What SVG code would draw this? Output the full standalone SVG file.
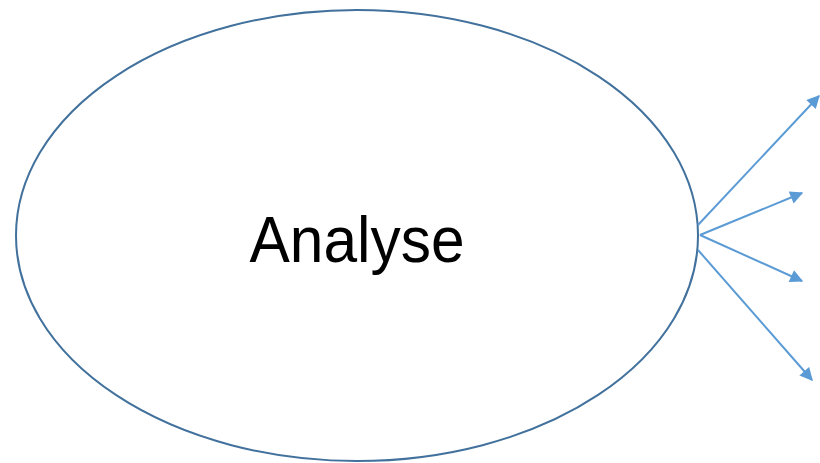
<svg xmlns="http://www.w3.org/2000/svg" width="820" height="463" viewBox="0 0 820 463">
<style>
.node{fill:#fff;stroke:#41719C;stroke-width:2}
.lbl{font-family:"Liberation Sans",Arial,sans-serif;font-size:64px;fill:#000}
.conn{stroke:#5B9BD5;stroke-width:2;fill:none;marker-end:url(#ah)}
</style>
<defs>
<marker id="ah" viewBox="0 0 10 10" refX="9" refY="5" markerWidth="7" markerHeight="6.5" markerUnits="strokeWidth" orient="auto">
<path d="M0,0 L10,5 L0,10 z" fill="#5B9BD5"/>
</marker>
</defs>
<rect width="820" height="463" fill="#fff"/>
<g id="analyse">
<ellipse class="node" cx="357" cy="235.5" rx="341" ry="225.5"/>
<text class="lbl" x="357" y="262" text-anchor="middle" textLength="215" lengthAdjust="spacingAndGlyphs">Analyse</text>
</g>
<g id="connectors">
<line class="conn" x1="698" y1="225" x2="819" y2="96"/>
<line class="conn" x1="700" y1="235" x2="802" y2="193"/>
<line class="conn" x1="700" y1="235" x2="802" y2="281"/>
<line class="conn" x1="698" y1="250" x2="812" y2="380"/>
</g>
</svg>
